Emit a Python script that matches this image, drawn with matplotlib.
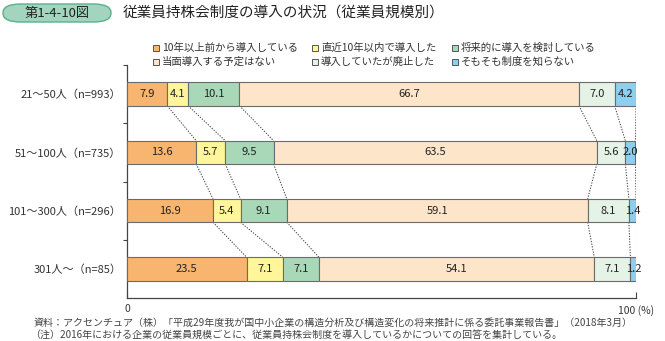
import matplotlib
matplotlib.use("Agg")
import matplotlib.pyplot as plt
from matplotlib.patches import FancyBboxPatch, Rectangle

plt.rcParams["font.family"] = ["Noto Sans CJK JP", "DejaVu Sans"]

# ── data ──────────────────────────────────────────────────────────────────────
categories = ["21～50人（n=993）", "51～100人（n=735）",
              "101～300人（n=296）", "301人～（n=85）"]
series = ["10年以上前から導入している", "直近10年以内で導入した", "将来的に導入を検討している",
          "当面導入する予定はない", "導入していたが廃止した", "そもそも制度を知らない"]
values = [
    [7.9, 4.1, 10.1, 66.7, 7.0, 4.2],
    [13.6, 5.7, 9.5, 63.5, 5.6, 2.0],
    [16.9, 5.4, 9.1, 59.1, 8.1, 1.4],
    [23.5, 7.1, 7.1, 54.1, 7.1, 1.2],
]
colors = ["#F8B56F", "#FFF59B", "#A8D8B8", "#FDE5CA", "#E5F2E6", "#8DCFF0"]
edge_col = "#6b6b6b"

title_tag = "第1-4-10図"
title = "従業員持株会制度の導入の状況（従業員規模別）"
note1 = "資料：アクセンチュア（株）「平成29年度我が国中小企業の構造分析及び構造変化の将来推計に係る委託事業報告書」（2018年3月）"
note2 = "（注）2016年における企業の従業員規模ごとに、従業員持株会制度を導入しているかについての回答を集計している。"

# ── figure ────────────────────────────────────────────────────────────────────
W, H = 665, 341
fig = plt.figure(figsize=(W / 100, H / 100), dpi=100)
ax = fig.add_axes([127 / W, 1 - 298 / H, (636 - 127) / W, (298 - 65) / H])

bar_h = 0.4
for i, row in enumerate(values):
    left = 0.0
    for j, v in enumerate(row):
        ax.barh(i, v, left=left, height=bar_h, color=colors[j],
                edgecolor=edge_col, linewidth=0.8, zorder=3)
        ax.text(left + v / 2, i, f"{v:.1f}", ha="center", va="center",
                fontsize=8, color="#222222", zorder=4)
        left += v

# dotted connectors between bars
for i in range(len(values) - 1):
    c0, c1 = 0.0, 0.0
    for j in range(len(series)):
        c0 += values[i][j]
        c1 += values[i + 1][j]
        ax.plot([min(c0, 100), min(c1, 100)], [i + bar_h / 2, i + 1 - bar_h / 2],
                color="#444444", linewidth=0.75, linestyle=(0, (1.2, 1.4)), zorder=2)

ax.set_xlim(0, 100)
ax.set_ylim(3.5, -0.5)
ax.set_yticks(range(len(categories)))
ax.set_yticklabels(categories, fontsize=8, color="#333333")
ax.set_yticks([-0.5, 0.5, 1.5, 2.5], minor=True)
ax.tick_params(axis="y", which="major", length=0, pad=4)
ax.tick_params(axis="y", which="minor", length=3, width=0.8, color="#444444")
ax.set_xticks([0, 100])
ax.set_xticklabels(["0", ""], fontsize=7.5, color="#333333")
ax.tick_params(axis="x", direction="in", length=4, width=0.8, color="#444444", pad=4)
ax.annotate("100 (%)", xy=(100, 0), xycoords=("data", "axes fraction"),
            xytext=(-13, -5), textcoords="offset points", ha="left", va="top",
            fontsize=7.5, color="#333333")
for s in ["top", "right"]:
    ax.spines[s].set_visible(False)
for s in ["left", "bottom"]:
    ax.spines[s].set_color("#444444")
    ax.spines[s].set_linewidth(0.9)

# ── title ─────────────────────────────────────────────────────────────────────
fig.patches.append(FancyBboxPatch((3 / W, 1 - 22 / H), 108 / W, 18 / H,
                                  boxstyle="round,pad=0,rounding_size=0.026",
                                  transform=fig.transFigure, facecolor="#A3D5BE",
                                  edgecolor="#5BB08A", linewidth=1.0))
fig.text(57 / W, 1 - 13 / H, title_tag, ha="center", va="center",
         fontsize=9.5, color="#222222")
fig.text(123 / W, 1 - 13 / H, title, ha="left", va="center",
         fontsize=10.5, color="#222222")

# ── legend (manual, row-wise) ─────────────────────────────────────────────────
leg_x = [153, 312, 452]
leg_y = [48, 62]
for k, name in enumerate(series):
    r, c = divmod(k, 3)
    x, y = leg_x[c], leg_y[r]
    fig.patches.append(Rectangle((x / W, (H - y - 3) / H), 6 / W, 6 / H,
                                 transform=fig.transFigure, facecolor=colors[k],
                                 edgecolor="#555555", linewidth=0.7))
    fig.text((x + 9) / W, 1 - y / H, name, ha="left", va="center",
             fontsize=7.5, color="#333333")

# ── notes ─────────────────────────────────────────────────────────────────────
fig.text(34 / W, 1 - 323 / H, note1, ha="left", va="center", fontsize=7.2, color="#444444")
fig.text(30 / W, 1 - 335 / H, note2, ha="left", va="center", fontsize=7.2, color="#444444")

fig.savefig("out.png", dpi=100)
